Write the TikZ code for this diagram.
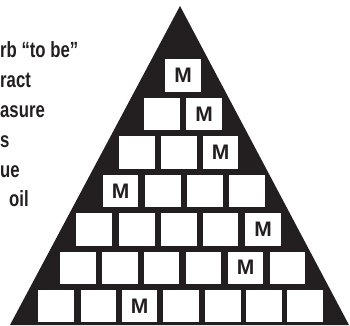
\documentclass[tikz,border=0pt]{standalone}
\usepackage{fontspec}
\setmainfont{Liberation Sans}
\newfontfamily\sidefont[FakeStretch=0.76]{Liberation Sans}
\definecolor{ink}{HTML}{231F20}
\begin{document}
\begin{tikzpicture}[x=1pt,y=-1pt,
  cell/.style={fill=white, draw=none, minimum width=35.5pt, minimum height=32.4pt,
    inner sep=0pt, font=\fontsize{21}{21}\selectfont\bfseries, text=ink},
  side/.style={anchor=base west, inner sep=0pt,
    font=\sidefont\fontsize{22}{22}\selectfont\bfseries, text=ink}]
\useasboundingbox (0,0) rectangle (350,325);
% side text (cut off at the left edge)
\node[side] (t1) at (0,57)  {rb “to be”};
\node[side] (t2) at (0,87)  {ract};
\node[side] (t3) at (0,117) {asure};
\node[side] (t4) at (0,147) {s};
\node[side] (t5) at (0,177) {ue};
\node[side] (t6) at (9,206) {oil};
% pyramid
\fill[ink] (180,6) -- (349,325) -- (10,325) -- cycle;
% row 1
\node[cell] (r1a) at (183,75.5) {M};
% row 2
\node[cell] (r2a) at (162,113.9) {};
\node[cell] (r2b) at (204,113.9) {M};
% row 3
\node[cell] (r3a) at (137,152.4) {};
\node[cell] (r3b) at (179,152.4) {};
\node[cell] (r3c) at (220.5,152.4) {M};
% row 4
\node[cell] (r4a) at (120.5,190.8) {M};
\node[cell] (r4b) at (163,190.8) {};
\node[cell] (r4c) at (205,190.8) {};
\node[cell] (r4d) at (247,190.8) {};
% row 5
\node[cell] (r5a) at (94,229.3) {};
\node[cell] (r5b) at (137,229.3) {};
\node[cell] (r5c) at (179,229.3) {};
\node[cell] (r5d) at (220.5,229.3) {};
\node[cell] (r5e) at (263,229.3) {M};
% row 6
\node[cell] (r6a) at (78,267.7) {};
\node[cell] (r6b) at (120,267.7) {};
\node[cell] (r6c) at (161.5,267.7) {};
\node[cell] (r6d) at (203.5,267.7) {};
\node[cell] (r6e) at (245.5,267.7) {M};
\node[cell] (r6f) at (287.5,267.7) {};
% row 7
\node[cell] (r7a) at (56,306) {};
\node[cell] (r7b) at (98.5,306) {};
\node[cell] (r7c) at (139.5,306) {M};
\node[cell] (r7d) at (181,306) {};
\node[cell] (r7e) at (223,306) {};
\node[cell] (r7f) at (264,306) {};
\node[cell] (r7g) at (305,306) {};
\end{tikzpicture}
\end{document}
